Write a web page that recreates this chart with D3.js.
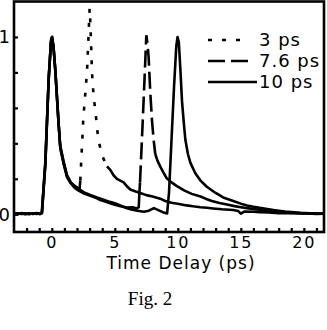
<!DOCTYPE html>
<html>
<head>
<meta charset="utf-8">
<script src="https://cdn.jsdelivr.net/npm/d3@7"></script>
<style>
  body { margin: 0; background: #fff; }
  text { font-family: "DejaVu Sans", sans-serif; fill: #000; }
</style>
</head>
<body>
<div id="chart"></div>
<script>
// Size of the picture
const width = 327;
const height = 330;
const frame = { left: 14, right: 324, top: 1.5, bottom: 232 };

// Traces: [time delay (ps), normalised signal]
const trace3ps = [[-3,0.004],[-2.7,0.0],[-2.4,0.007],[-2.1,0.002],[-1.8,0.006],[-1.5,0.001],[-1.2,0.005],[-0.95,0.002],[-0.78,0.01],[-0.52,0.29],[-0.25,0.76],[-0.06,0.98],[0.02,1.0],[0.14,0.94],[0.28,0.81],[0.41,0.66],[0.54,0.51],[0.67,0.38],[0.94,0.29],[1.2,0.22],[1.5,0.18],[1.8,0.16],[2.2,0.14],[2.26,0.19],[2.5,0.54],[2.79,0.8],[2.9,0.98],[3.0,1.16],[3.06,1.08],[3.19,0.8],[3.32,0.66],[3.45,0.59],[3.69,0.42],[4.0,0.33],[4.38,0.27],[4.64,0.25],[4.9,0.22],[5.17,0.2],[5.7,0.18],[6.0,0.155],[6.23,0.14],[6.6,0.13],[7.02,0.12],[7.5,0.108],[8.0,0.1],[8.6,0.088],[9.0,0.075],[9.5,0.065],[10.1,0.058],[10.7,0.05],[11.2,0.045],[11.8,0.04],[12.3,0.037],[12.8,0.033],[13.5,0.028],[14.4,0.024],[14.8,0.018],[15.0,0.004],[15.3,0.016],[16.0,0.014],[16.5,0.012],[17.2,0.01],[18.0,0.006],[18.8,0.008],[19.5,0.004],[20.3,0.005],[21.0,0.002],[21.6,0.003]];

const trace76ps = [[-3,0.002],[-2.7,0.006],[-2.4,0.001],[-2.1,0.005],[-1.8,0.0],[-1.5,0.006],[-1.2,0.002],[-0.95,0.004],[-0.8,0.008],[-0.5,0.3],[-0.24,0.78],[-0.05,0.99],[0.03,1.0],[0.15,0.93],[0.29,0.8],[0.42,0.65],[0.55,0.5],[0.68,0.37],[0.95,0.28],[1.2,0.21],[1.5,0.175],[1.8,0.15],[2.1,0.135],[2.52,0.118],[3.0,0.105],[3.59,0.09],[3.85,0.08],[4.3,0.07],[4.8,0.058],[5.44,0.045],[6.0,0.038],[6.4,0.04],[6.76,0.033],[6.9,0.04],[6.95,0.12],[7.0,0.18],[7.2,0.5],[7.38,0.8],[7.5,1.01],[7.58,0.97],[7.68,0.89],[7.82,0.68],[7.95,0.53],[8.08,0.42],[8.21,0.34],[8.4,0.3],[8.6,0.27],[8.9,0.23],[9.1,0.205],[9.5,0.18],[9.9,0.16],[10.5,0.135],[11.1,0.115],[11.8,0.1],[12.2,0.088],[12.7,0.075],[13.3,0.064],[13.9,0.055],[14.5,0.046],[15.0,0.04],[15.75,0.032],[16.4,0.025],[17.0,0.02],[17.6,0.016],[18.0,0.013],[18.6,0.01],[19.0,0.008],[19.6,0.007],[20.0,0.005],[20.8,0.004],[21.6,0.003]];

const trace10ps = [[-3,0.006],[-2.7,0.002],[-2.4,0.005],[-2.1,0.0],[-1.8,0.004],[-1.5,0.003],[-1.2,0.007],[-0.95,0.001],[-0.78,0.006],[-0.52,0.27],[-0.26,0.74],[-0.07,0.97],[0.02,0.99],[0.13,0.95],[0.27,0.82],[0.4,0.67],[0.53,0.52],[0.66,0.39],[0.93,0.3],[1.2,0.22],[1.5,0.18],[1.8,0.16],[2.1,0.145],[2.52,0.125],[3.0,0.11],[3.59,0.095],[4.1,0.082],[4.6,0.07],[5.0,0.062],[5.44,0.05],[5.9,0.035],[6.4,0.025],[6.8,0.02],[7.3,0.014],[7.7,0.02],[8.1,0.035],[8.5,0.022],[8.8,0.012],[9.15,0.005],[9.3,0.12],[9.5,0.42],[9.7,0.72],[9.88,0.95],[9.98,1.0],[10.08,0.97],[10.2,0.82],[10.33,0.64],[10.47,0.52],[10.6,0.42],[10.8,0.34],[11.0,0.29],[11.4,0.23],[11.8,0.19],[12.3,0.155],[13.0,0.12],[13.6,0.095],[14.4,0.075],[15.0,0.06],[15.5,0.05],[16.0,0.042],[16.5,0.036],[17.1,0.03],[17.6,0.024],[18.0,0.02],[18.5,0.015],[19.0,0.012],[19.7,0.008],[20.5,0.006],[21.0,0.004],[21.6,0.004]];

const seriesLabels = ["3 ps", "7.6 ps", "10 ps"];
const xTickValues = d3.range(-2, 22);     // minor ticks every 1 ps
const xTickLabels = [0, 5, 10, 15, 20];
const yTickValues = [0, 0.2, 0.4, 0.6, 0.8, 1];
const yTickLabels = [0, 1];

// line styles (dash only on the steep second pulse, like the original)
const styles = [
  { dash: "4,10", from: 2.26, to: 4.38, legendEnd: 243 },
  { dash: "17,6", from: 7.0, to: 8.21, legendEnd: 248 },
  { dash: null, legendEnd: 257 }
];
const traces = [trace3ps, trace76ps, trace10ps];

const svg = d3.select("#chart")
  .append("svg")
  .attr("width", width)
  .attr("height", height);

const x = d3.scaleLinear().domain([-3, 21.6]).range([frame.left, frame.right]);
const y = d3.scaleLinear().domain([-0.1, 1.2]).range([frame.bottom, frame.top]);

svg.append("clipPath").attr("id", "plotclip")
  .append("rect")
  .attr("x", frame.left).attr("y", frame.top)
  .attr("width", frame.right - frame.left)
  .attr("height", frame.bottom - frame.top);

const line = d3.line().x(d => x(d[0])).y(d => y(d[1]));

const plot = svg.append("g").attr("clip-path", "url(#plotclip)");

traces.forEach((data, i) => {
  const st = styles[i];
  if (!st.dash) {
    plot.append("path").attr("d", line(data))
      .attr("fill", "none").attr("stroke", "#000").attr("stroke-width", 2.6)
      .attr("stroke-linejoin", "round");
    return;
  }
  const before = data.filter(d => d[0] <= st.from);
  const mid = data.filter(d => d[0] >= st.from && d[0] <= st.to);
  const after = data.filter(d => d[0] >= st.to);
  [before, after].forEach(part => {
    plot.append("path").attr("d", line(part))
      .attr("fill", "none").attr("stroke", "#000").attr("stroke-width", 2.6)
      .attr("stroke-linejoin", "round");
  });
  plot.append("path").attr("d", line(mid))
    .attr("fill", "none").attr("stroke", "#000").attr("stroke-width", 2.6)
    .attr("stroke-dasharray", st.dash);
});

// Axes (ticks point inward)
const xAxis = svg.append("g")
  .attr("transform", `translate(0, ${frame.bottom})`)
  .call(d3.axisBottom(x).tickValues(xTickValues).tickSize(-4).tickPadding(5)
    .tickFormat(d => xTickLabels.includes(d) ? d : ""));
xAxis.select(".domain").remove();
xAxis.selectAll(".tick line").attr("stroke", "#000").attr("stroke-width", 2.2);
xAxis.selectAll(".tick text").attr("font-size", 16).attr("font-family", "DejaVu Sans")
  .attr("letter-spacing", 2);

const yAxis = svg.append("g")
  .attr("transform", `translate(${frame.left}, 0)`)
  .call(d3.axisLeft(y).tickValues(yTickValues).tickSize(-4).tickPadding(4)
    .tickFormat(d => yTickLabels.includes(d) ? d : ""));
yAxis.select(".domain").remove();
yAxis.selectAll(".tick line").attr("stroke", "#000").attr("stroke-width", 2.2);
yAxis.selectAll(".tick text").attr("font-size", 18).attr("font-family", "DejaVu Sans");

// Frame
svg.append("rect")
  .attr("x", frame.left).attr("y", frame.top)
  .attr("width", frame.right - frame.left)
  .attr("height", frame.bottom - frame.top)
  .attr("fill", "none").attr("stroke", "#000").attr("stroke-width", 2.6);

// Legend
const legend = svg.append("g");
seriesLabels.forEach((label, i) => {
  const ly = [40, 61, 82][i];
  legend.append("line")
    .attr("x1", 208).attr("x2", styles[i].legendEnd)
    .attr("y1", ly).attr("y2", ly)
    .attr("stroke", "#000").attr("stroke-width", 2.6)
    .attr("stroke-dasharray", styles[i].dash);
  legend.append("text")
    .attr("x", 259).attr("y", ly + 6)
    .attr("font-size", 18)
    .attr("letter-spacing", 1)
    .text(label);
});

// Axis title and caption
svg.append("text")
  .attr("x", 181).attr("y", 269)
  .attr("text-anchor", "middle")
  .attr("font-size", 17)
  .attr("letter-spacing", 1)
  .text("Time Delay (ps)");

svg.append("text")
  .attr("x", 150).attr("y", 305)
  .attr("text-anchor", "middle")
  .attr("font-size", 19)
  .style("font-family", "'Liberation Serif', 'Times New Roman', serif")
  .text("Fig. 2");
</script>
</body>
</html>
